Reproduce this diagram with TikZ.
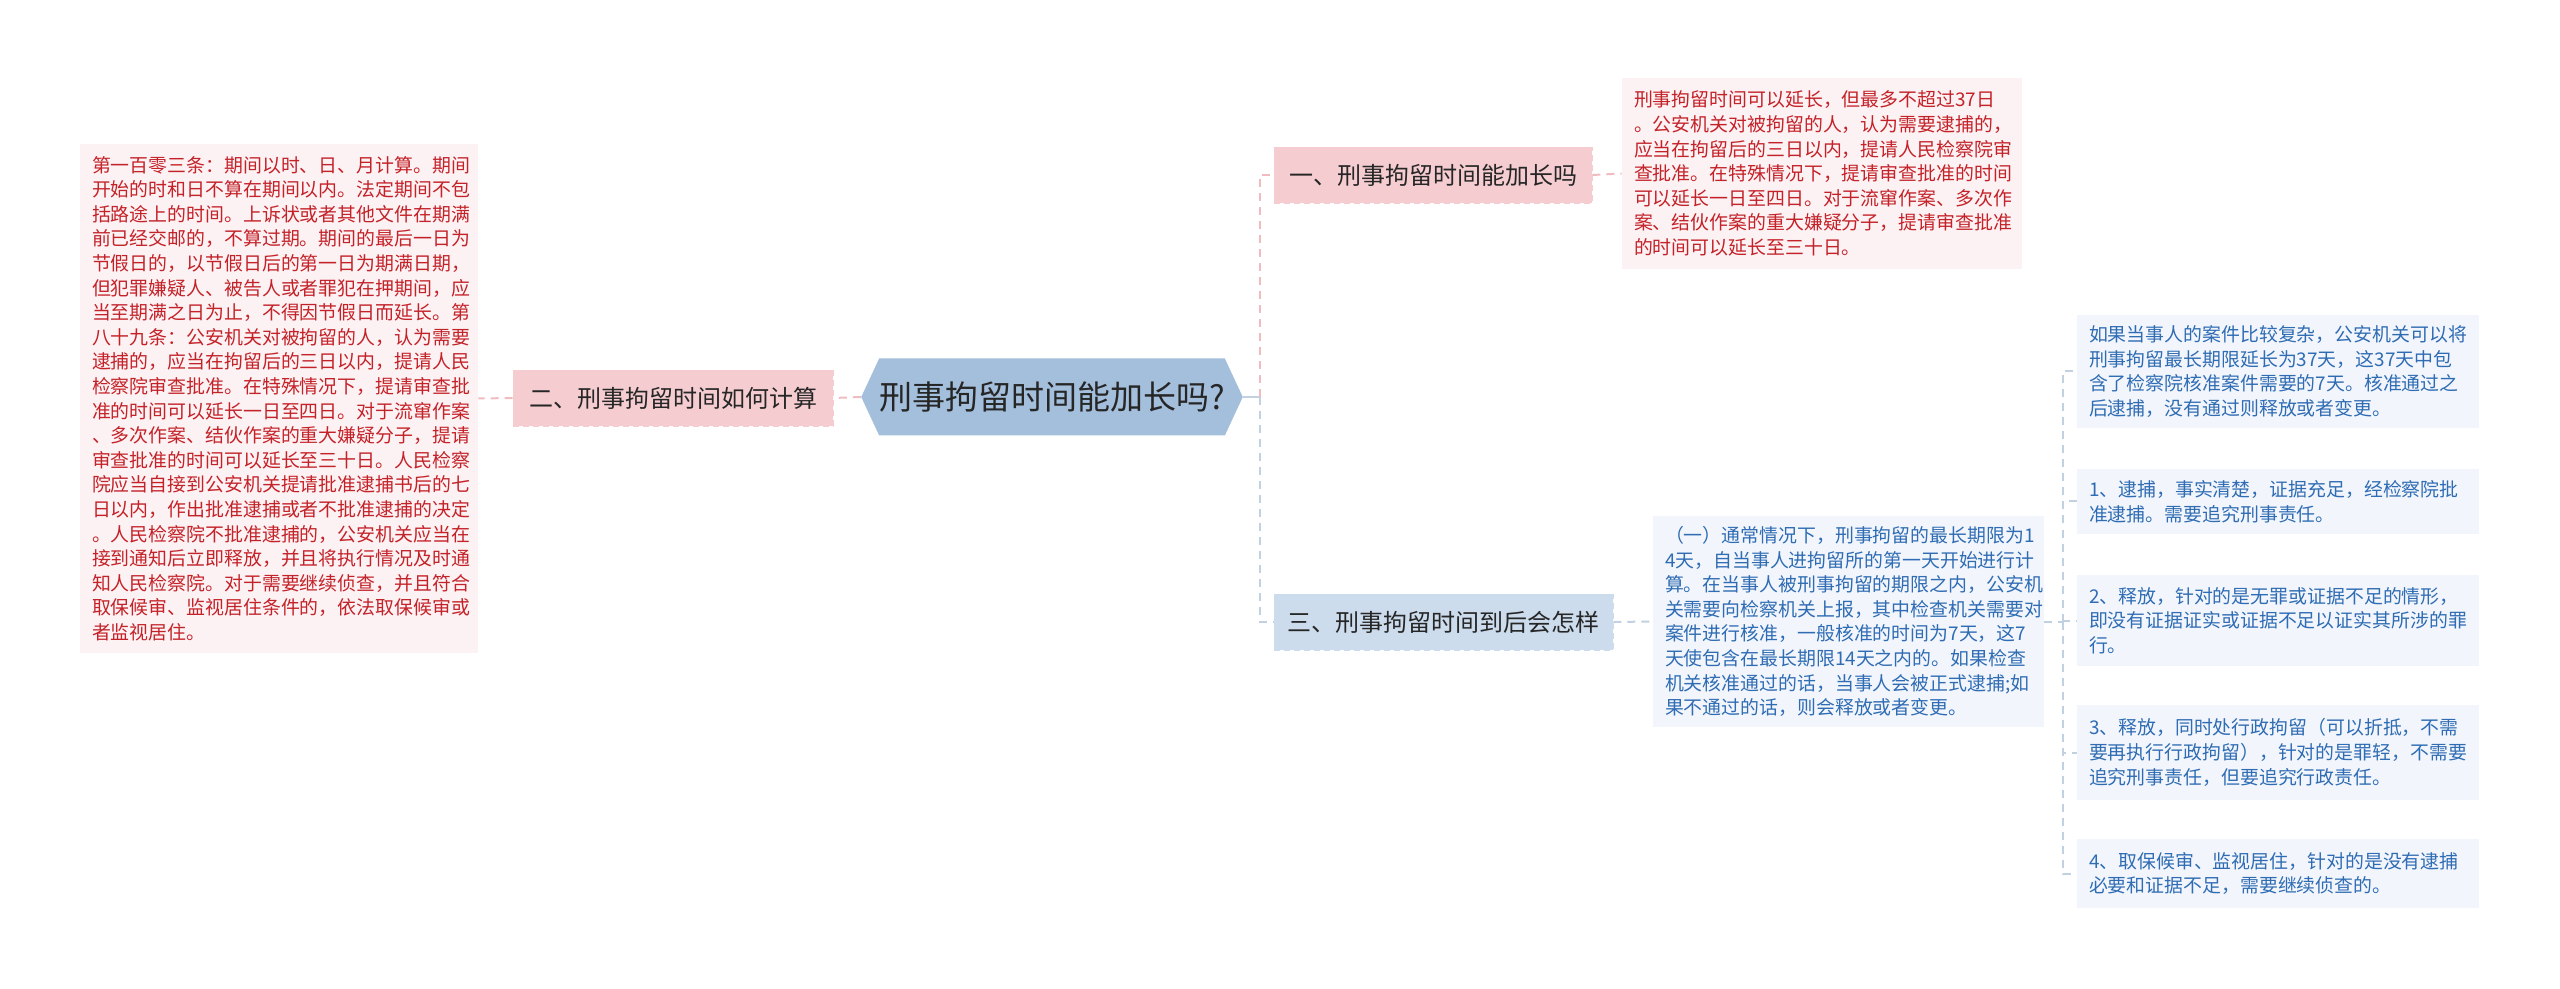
\documentclass[tikz,border=0pt]{standalone}
\usepackage{fontspec}
\setmainfont{Noto Sans CJK SC}
\usetikzlibrary{shapes.symbols,calc}
\definecolor{mmroot}{HTML}{A4BFDC}
\definecolor{mmpink}{HTML}{F5CDD1}
\definecolor{mmlblue}{HTML}{CCDCED}
\definecolor{mmpinkleaf}{HTML}{FCF2F3}
\definecolor{mmblueleaf}{HTML}{F2F6FC}
\definecolor{mmred}{HTML}{C42229}
\definecolor{mmtxtblue}{HTML}{2F6CB3}
\definecolor{mmpinkline}{HTML}{F0BCC2}
\definecolor{mmblueline}{HTML}{C2D1E1}

\begin{document}
\begin{tikzpicture}[x=.5pt,y=-.5pt,
  mmroot/.style={signal,signal to=east and west,signal pointer angle=130,fill=mmroot,
    minimum width=181pt,minimum height=38.5pt,inner sep=0pt,text=black!85,
    font=\fontsize{16.5}{20}\selectfont},
  mmbranch/.style={rectangle,minimum height=28pt,inner sep=0pt,text=black!85,
    dash pattern=on 3pt off 2pt,font=\fontsize{12}{14}\selectfont},
  mmleaf/.style={rectangle,align=left,inner xsep=6pt,inner ysep=0pt,
    font=\fontsize{9.45}{12.3}\selectfont},
  redleaf/.style={mmleaf,fill=mmpinkleaf,text=mmred},
  blueleaf/.style={mmleaf,fill=mmblueleaf,text=mmtxtblue},
  pinkline/.style={draw=mmpinkline,line width=1pt,dash pattern=on 4pt off 3pt},
  blueline/.style={draw=mmblueline,line width=1pt,dash pattern=on 4pt off 3pt}]
  \fill[white] (0,0) rectangle (2560,989);
  \useasboundingbox (0,0) rectangle (2560,989);

  \node[mmroot] (root) at (1052,397) {刑事拘留时间能加长吗?};
  \node[mmbranch,fill=mmpink,draw=mmpink,minimum width=160pt] (calc) at (673,398) {二、刑事拘留时间如何计算};
  \node[mmbranch,fill=mmpink,draw=mmpink,minimum width=159pt] (extend) at (1433,175) {一、刑事拘留时间能加长吗};
  \node[mmbranch,fill=mmlblue,draw=mmlblue,minimum width=169.5pt] (expire) at (1443.5,622) {三、刑事拘留时间到后会怎样};

  \node[redleaf,text width=187pt,minimum height=254.5pt] (law) at (279,398.5) {第一百零三条：期间以时、日、月计算。期间\\开始的时和日不算在期间以内。法定期间不包\\括路途上的时间。上诉状或者其他文件在期满\\前已经交邮的，不算过期。期间的最后一日为\\节假日的，以节假日后的第一日为期满日期，\\但犯罪嫌疑人、被告人或者罪犯在押期间，应\\当至期满之日为止，不得因节假日而延长。第\\八十九条：公安机关对被拘留的人，认为需要\\逮捕的，应当在拘留后的三日以内，提请人民\\检察院审查批准。在特殊情况下，提请审查批\\准的时间可以延长一日至四日。对于流窜作案\\、多次作案、结伙作案的重大嫌疑分子，提请\\审查批准的时间可以延长至三十日。人民检察\\院应当自接到公安机关提请批准逮捕书后的七\\日以内，作出批准逮捕或者不批准逮捕的决定\\。人民检察院不批准逮捕的，公安机关应当在\\接到通知后立即释放，并且将执行情况及时通\\知人民检察院。对于需要继续侦查，并且符合\\取保候审、监视居住条件的，依法取保候审或\\者监视居住。};
  \node[redleaf,text width=188pt,minimum height=95.5pt] (extendtxt) at (1822,173.5) {刑事拘留时间可以延长，但最多不超过37日\\。公安机关对被拘留的人，认为需要逮捕的，\\应当在拘留后的三日以内，提请人民检察院审\\查批准。在特殊情况下，提请审查批准的时间\\可以延长一日至四日。对于流窜作案、多次作\\案、结伙作案的重大嫌疑分子，提请审查批准\\的时间可以延长至三十日。};
  \node[blueleaf,text width=183.5pt,minimum height=105.5pt] (normal) at (1848.5,621.5) {（一）通常情况下，刑事拘留的最长期限为1\\4天，自当事人进拘留所的第一天开始进行计\\算。在当事人被刑事拘留的期限之内，公安机\\关需要向检察机关上报，其中检查机关需要对\\案件进行核准，一般核准的时间为7天，这7\\天使包含在最长期限14天之内的。如果检查\\机关核准通过的话，当事人会被正式逮捕;如\\果不通过的话，则会释放或者变更。};

  \node[blueleaf,text width=189pt,minimum height=56.5pt] (opta) at (2278,371.5) {如果当事人的案件比较复杂，公安机关可以将\\刑事拘留最长期限延长为37天，这37天中包\\含了检察院核准案件需要的7天。核准通过之\\后逮捕，没有通过则释放或者变更。};
  \node[blueleaf,text width=189pt,minimum height=32.5pt] (optb) at (2278,501.5) {1、逮捕，事实清楚，证据充足，经检察院批\\准逮捕。需要追究刑事责任。};
  \node[blueleaf,text width=189pt,minimum height=45.5pt] (optc) at (2278,620.5) {2、释放，针对的是无罪或证据不足的情形，\\即没有证据证实或证据不足以证实其所涉的罪\\行。};
  \node[blueleaf,text width=189pt,minimum height=47.5pt] (optd) at (2278,752.5) {3、释放，同时处行政拘留（可以折抵，不需\\要再执行行政拘留），针对的是罪轻，不需要\\追究刑事责任，但要追究行政责任。};
  \node[blueleaf,text width=189pt,minimum height=34.5pt] (opte) at (2278,873.5) {4、取保候审、监视居住，针对的是没有逮捕\\必要和证据不足，需要继续侦查的。};

  \draw[pinkline] (root.west) -- (calc.east);
  \draw[pinkline] (calc.west) -- (law.east);
  \coordinate (rj) at ($(root.east)+(17,0)$);
  \draw[blueline,solid] (root.east) -- (rj);
  \draw[pinkline] (rj) |- (extend.west);
  \draw[blueline] (rj) |- (expire.west);
  \draw[pinkline] (extend.east) -- (extendtxt.west);
  \draw[blueline] (expire.east) -- (normal.west);
  \coordinate (lj) at ($(normal.east)+(19,0)$);
  \draw[blueline] (normal.east) -- (lj);
  \foreach \opt in {opta,optb,optc,optd,opte}
    \draw[blueline] (lj) |- (\opt.west);
\end{tikzpicture}
\end{document}
